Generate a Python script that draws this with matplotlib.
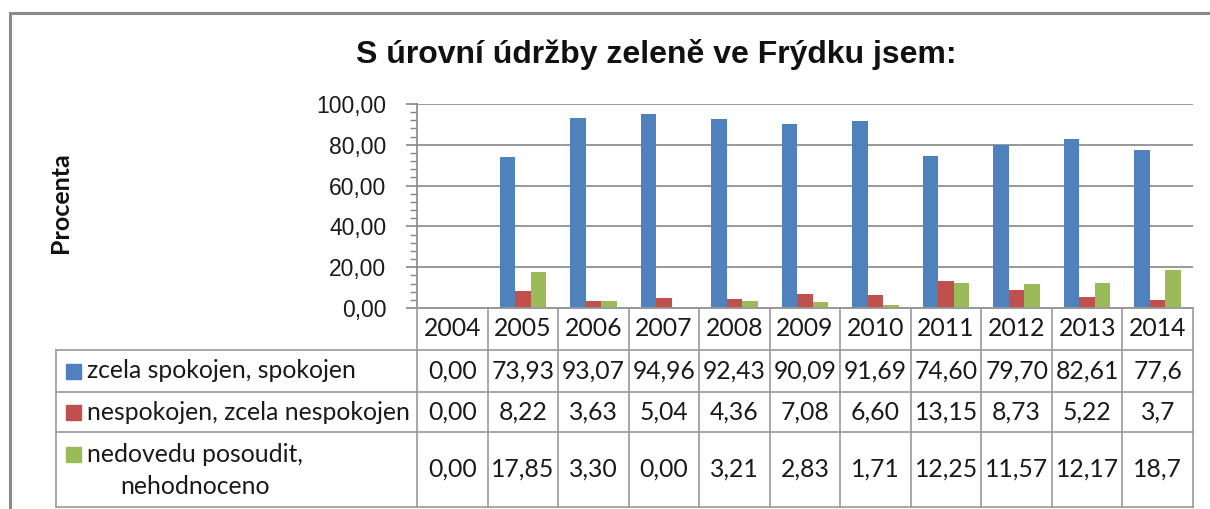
import matplotlib
matplotlib.use("Agg")
import matplotlib.pyplot as plt
import matplotlib.transforms as mtransforms
from matplotlib.patches import Rectangle
import numpy as np

# data
years = ['2004', '2005', '2006', '2007', '2008', '2009', '2010', '2011', '2012', '2013', '2014']
series_names = ['zcela spokojen, spokojen', 'nespokojen, zcela nespokojen',
                'nedovedu posoudit,\nnehodnoceno']
spokojen = [0.00, 73.93, 93.07, 94.96, 92.43, 90.09, 91.69, 74.60, 79.70, 82.61, 77.6]
nespokojen = [0.00, 8.22, 3.63, 5.04, 4.36, 7.08, 6.60, 13.15, 8.73, 5.22, 3.7]
nedovedu = [0.00, 17.85, 3.30, 0.00, 3.21, 2.83, 1.71, 12.25, 11.57, 12.17, 18.7]
decimals = [2, 2, 2, 2, 2, 2, 2, 2, 2, 2, 1]
colors = ['#4F81BD', '#C0504D', '#9BBB59']
values = [spokojen, nespokojen, nedovedu]

W, H = 1210, 509
fig = plt.figure(figsize=(W / 100, H / 100), dpi=100)

def fx(px):
    return px / W

def fy(py):
    return 1 - py / H

# plot area in pixels
L, R, T, B = 417, 1193, 104, 308
ax = fig.add_axes([fx(L), fy(B), fx(R - L), (B - T) / H])

x = np.arange(len(years))
bw = 0.22
for i, (vals, c) in enumerate(zip(values, colors)):
    ax.bar(x + (i - 1) * bw, vals, bw, color=c, zorder=3)

ax.set_xlim(-0.5, len(years) - 0.5)
ax.set_ylim(0, 100)
ax.set_yticks(np.arange(0, 101, 20))
ax.set_yticks(np.arange(0, 101, 4), minor=True)
ax.set_yticklabels([f'{v:.2f}'.replace('.', ',') for v in np.arange(0, 101, 20)],
                   fontsize=16.5, family='Liberation Sans', color='#1a1a1a')
ax.set_xticks([])
ax.grid(axis='y', color='#868686', lw=1.2, zorder=0)
for s in ['top', 'right']:
    ax.spines[s].set_visible(False)
for s in ['left', 'bottom']:
    ax.spines[s].set_color('#868686')
    ax.spines[s].set_linewidth(1.2)
ax.tick_params(axis='y', which='major', length=8, width=1.2, color='#868686', pad=14)
ax.tick_params(axis='y', which='minor', length=5, width=1.0, color='#868686')

# title and axis label
fig.text(fx(656), fy(55), 'S úrovní údržby zeleně ve Frýdku jsem:', ha='center', va='center',
         fontsize=23, fontweight='bold', family='Liberation Sans', color='#111111')
fig.text(fx(61), fy(203), 'Procenta', rotation=90, ha='center', va='center',
         fontsize=18, fontweight='bold', family='Lato', color='#111111')

# outer border
fig.patches.append(Rectangle((fx(10), fy(H + 20)), 1.2, fy(13) - fy(H + 20),
                             transform=fig.transFigure, fill=False, ec='#898989', lw=2.2))

# data table under the plot
tr = mtransforms.blended_transform_factory(ax.transData, fig.transFigure)
rows = [308, 350, 392, 432, 507]
gc = '#9a9a9a'
fig.add_artist(plt.Line2D([fx(L), fx(R)], [fy(rows[0])] * 2, color=gc, lw=1.2, transform=fig.transFigure))
for r in rows[1:]:
    fig.add_artist(plt.Line2D([fx(56), fx(R)], [fy(r)] * 2, color=gc, lw=1.2, transform=fig.transFigure))
for k in range(len(years) + 1):
    fig.add_artist(plt.Line2D([k - 0.5] * 2, [fy(rows[0]), fy(rows[-1])], color=gc, lw=1.2, transform=tr))
fig.add_artist(plt.Line2D([fx(56)] * 2, [fy(rows[1]), fy(rows[-1])], color=gc, lw=1.2, transform=fig.transFigure))

tfont = dict(family='Lato', fontsize=17.8, color='#1a1a1a')
for k, yr in enumerate(years):
    fig.text(k, fy((rows[0] + rows[1]) / 2), yr, ha='center', va='center', transform=tr, **tfont)
for j, (vals, c, name) in enumerate(zip(values, colors, series_names)):
    yc = (rows[j + 1] + rows[j + 2]) / 2
    for k, v in enumerate(vals):
        s = f'{v:.{decimals[k]}f}'.replace('.', ',')
        fig.text(k, fy(yc), s, ha='center', va='center', transform=tr, **tfont)
    # legend key + series name in the first column
    lines = name.split('\n')
    ty = yc if len(lines) == 1 else rows[j + 1] + 22
    fig.patches.append(Rectangle((fx(66), fy(ty + 7.5)), fx(15), 15 / H, transform=fig.transFigure,
                                 color=c))
    fig.text(fx(87), fy(ty), lines[0], ha='left', va='center', **tfont)
    if len(lines) > 1:
        fig.text(fx(120), fy(ty + 32), lines[1], ha='left', va='center', **tfont)

fig.savefig('out.png', dpi=100)
